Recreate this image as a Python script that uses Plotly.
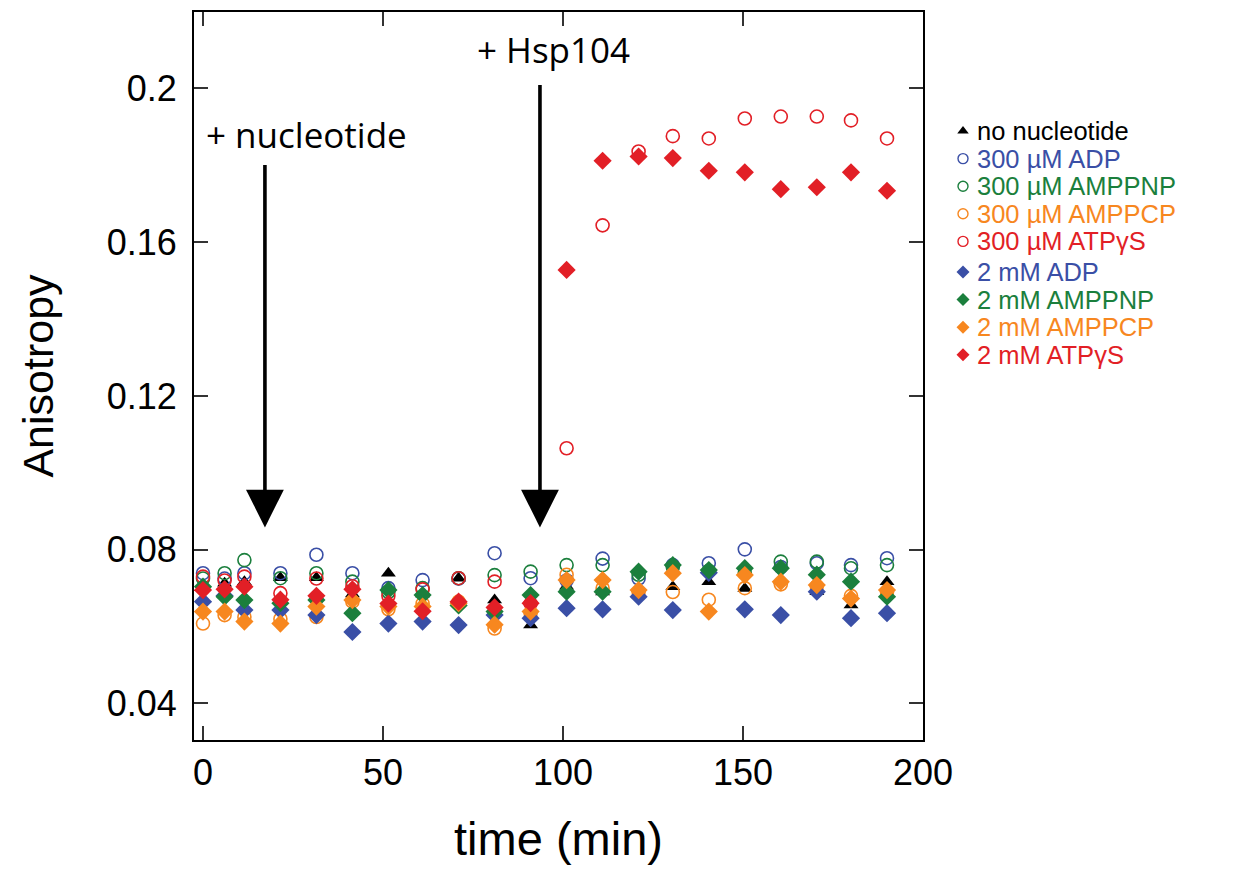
import plotly.graph_objects as go

time = [0, 6, 11.5, 21.5, 31.5, 41.5, 51.5, 61, 71, 81, 91, 101, 111, 121, 130.5, 140.5, 150.5, 160.5, 170.5, 180, 190]

no_nuc = [0.0705, 0.0713, 0.0717, 0.0727, 0.0727, 0.0685, 0.0739, 0.0685, 0.0726, 0.0669, 0.0604,
          0.0705, 0.0690, 0.0700, 0.0704, 0.0717, 0.0699, 0.0720, 0.0691, 0.0656, 0.0717]
adp_300 = [0.0739, 0.0725, 0.0739, 0.0739, 0.0787, 0.0739, 0.0700, 0.0721, 0.0725, 0.0791, 0.0726,
           0.0720, 0.0777, 0.0725, 0.0760, 0.0765, 0.0801, 0.0755, 0.0765, 0.0760, 0.0778]
amppnp_300 = [0.0725, 0.0739, 0.0773, 0.0726, 0.0739, 0.0717, 0.0690, 0.0700, 0.0726, 0.0734, 0.0743,
              0.0760, 0.0760, 0.0735, 0.0755, 0.0745, 0.0740, 0.0769, 0.0769, 0.0752, 0.0760]
amppcp_300 = [0.0608, 0.0630, 0.0625, 0.0620, 0.0625, 0.0665, 0.0645, 0.0660, 0.0665, 0.0595, 0.0635,
              0.0735, 0.0700, 0.0690, 0.0690, 0.0670, 0.0700, 0.0710, 0.0705, 0.0680, 0.0690]
atpgs_300 = [0.0730, 0.0720, 0.0730, 0.0687, 0.0725, 0.0705, 0.0680, 0.0697, 0.0726, 0.0717, 0.0660,
             0.1064, 0.1644, 0.1836, 0.1876, 0.1870, 0.1922, 0.1927, 0.1927, 0.1917, 0.1870]
adp_2 = [0.0665, 0.0680, 0.0643, 0.0643, 0.0630, 0.0586, 0.0608, 0.0613, 0.0604, 0.0630, 0.0622,
         0.0648, 0.0645, 0.0678, 0.0643, 0.0740, 0.0645, 0.0630, 0.0691, 0.0622, 0.0635]
amppnp_2 = [0.0704, 0.0678, 0.0669, 0.0661, 0.0669, 0.0635, 0.0695, 0.0682, 0.0655, 0.0639, 0.0682,
            0.0691, 0.0691, 0.0743, 0.0760, 0.0747, 0.0752, 0.0752, 0.0735, 0.0717, 0.0678]
amppcp_2 = [0.0639, 0.0639, 0.0613, 0.0608, 0.0652, 0.0669, 0.0652, 0.0652, 0.0661, 0.0605, 0.0639,
            0.0721, 0.0721, 0.0695, 0.0739, 0.0639, 0.0734, 0.0717, 0.0708, 0.0673, 0.0695]
atpgs_2 = [0.0695, 0.0697, 0.0704, 0.0670, 0.0680, 0.0697, 0.0660, 0.0640, 0.0665, 0.0650, 0.0661,
           0.1528, 0.1812, 0.1823, 0.1819, 0.1786, 0.1782, 0.1738, 0.1743, 0.1782, 0.1734]

x_ticks = [0, 50, 100, 150, 200]
y_ticks = [0.04, 0.08, 0.12, 0.16, 0.2]
y_tick_text = ["0.04", "0.08", "0.12", "0.16", "0.2"]

BLACK = "#000000"
BLUE = "#3a4fa6"
GREEN = "#1b7f3d"
ORANGE = "#f7871f"
RED = "#e21f26"

series = [
    ("no nucleotide", no_nuc, BLACK, "triangle-up", False),
    ("300 µM ADP", adp_300, BLUE, "circle-open", True),
    ("300 µM AMPPNP", amppnp_300, GREEN, "circle-open", True),
    ("300 µM AMPPCP", amppcp_300, ORANGE, "circle-open", True),
    ("300 µM ATPγS", atpgs_300, RED, "circle-open", True),
    ("2 mM ADP", adp_2, BLUE, "diamond", False),
    ("2 mM AMPPNP", amppnp_2, GREEN, "diamond", False),
    ("2 mM AMPPCP", amppcp_2, ORANGE, "diamond", False),
    ("2 mM ATPγS", atpgs_2, RED, "diamond", False),
]

FIG_W, FIG_H = 1248, 873
ML, MT, MB = 186, 4, 141
PLOT_W = 729
paper_w = FIG_W - ML
d_main = PLOT_W / paper_w

fig = go.Figure()
for name, vals, col, sym, is_open in series:
    if is_open:
        marker = dict(symbol=sym, size=13, color=col, line=dict(width=1.6, color=col))
    elif sym == "diamond":
        marker = dict(symbol=sym, size=14, color=col, line=dict(width=0))
    else:
        marker = dict(symbol=sym, size=13, color=col, line=dict(width=0))
    fig.add_trace(go.Scatter(x=time, y=vals, mode="markers", marker=marker, name=name,
                             showlegend=False))

# --- custom legend on a helper axis pair (units = screen pixels) ---
leg_x0 = 923
leg_top, leg_step, group_gap = 131, 27.6, 3
for i, (name, vals, col, sym, is_open) in enumerate(series):
    yy = leg_top + i * leg_step + (group_gap if i >= 5 else 0)
    if is_open:
        mk = dict(symbol=sym, size=10, color=col, line=dict(width=1.4, color=col))
    elif sym == "diamond":
        mk = dict(symbol=sym, size=10, color=col, line=dict(width=0))
    else:
        mk = dict(symbol=sym, size=10, color=col, line=dict(width=0))
    fig.add_trace(go.Scatter(x=[963], y=[yy], xaxis="x2", yaxis="y2", mode="markers",
                             marker=mk, showlegend=False, hoverinfo="skip", cliponaxis=False))
    fig.add_annotation(x=976, y=yy, xref="x2", yref="y2", text=name, showarrow=False,
                       xanchor="left", yanchor="middle", borderpad=0,
                       font=dict(family="Liberation Sans, Arial", size=25.5, color=col))

# arrows
for ax_x, top in [(17.2, 0.1805), (93.6, 0.2013)]:
    fig.add_annotation(x=ax_x, y=0.0858, ax=ax_x, ay=top, xref="x", yref="y", axref="x", ayref="y",
                       showarrow=True, arrowhead=2, arrowsize=2.1, arrowwidth=3.6,
                       arrowcolor="black", text="")
fig.add_annotation(x=0.4, y=0.1880, xref="x", yref="y", text="+ nucleotide", showarrow=False,
                   xanchor="left", yanchor="middle", font=dict(family="Open Sans", size=35, color="black"))
fig.add_annotation(x=75.5, y=0.2102, xref="x", yref="y", text="+ Hsp104", showarrow=False,
                   xanchor="left", yanchor="middle", font=dict(family="Open Sans", size=35, color="black"))

axis_common = dict(
    showline=True, linecolor="black", linewidth=1.8, mirror="ticks",
    ticks="inside", ticklen=14, tickwidth=1.5, tickcolor="#333333",
    showgrid=False, zeroline=False, automargin=False,
    tickfont=dict(family="Liberation Sans, Arial", size=36, color="black"),
)

fig.update_layout(
    width=FIG_W, height=FIG_H,
    margin=dict(l=ML, r=0, t=MT, b=MB, pad=0),
    paper_bgcolor="white", plot_bgcolor="white",
    xaxis=dict(domain=[0, d_main], range=[-2.5, 200], tickvals=x_ticks,
               title=dict(text="time (min)", font=dict(family="Liberation Sans, Arial", size=47, color="black"),
                          standoff=30),
               **axis_common),
    yaxis=dict(range=[0.0305, 0.2199], tickvals=y_ticks, ticktext=y_tick_text, ticklabelstandoff=8,
               title=dict(text="Anisotropy", font=dict(family="Liberation Sans, Arial", size=43, color="black"),
                          standoff=40),
               **axis_common),
    xaxis2=dict(domain=[d_main, 1], range=[leg_x0, leg_x0 + (1 - d_main) * paper_w], visible=False,
                anchor="y2", fixedrange=True),
    yaxis2=dict(domain=[0, 1], range=[740, 12], visible=False, anchor="x2", fixedrange=True),
    showlegend=False,
)

fig.write_html("out.html")
